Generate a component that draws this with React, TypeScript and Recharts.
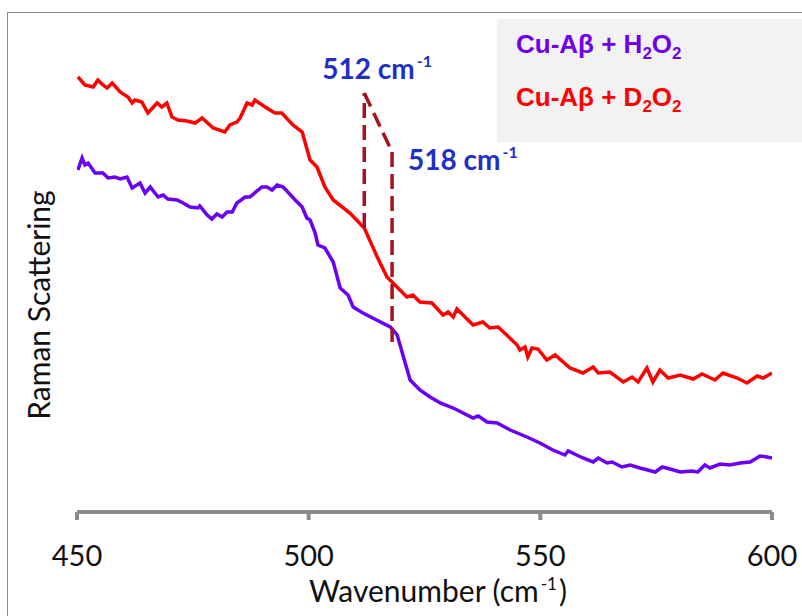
import { LineChart, Line, XAxis, YAxis, ReferenceLine } from "recharts";

// Raman spectra, wavenumber (cm-1) against relative scattering (arbitrary units)
const d2o2Wavenumber = [
  450.2, 451.7, 453.5, 454.5, 455.6, 456.5, 457.6, 459.3, 461.0, 461.9, 462.5, 464.0, 465.3, 467.3,
  468.3, 469.4, 470.5, 471.8, 473.7, 475.5, 477.0, 479.4, 481.9, 483.0, 484.5, 485.2, 486.7, 487.8,
  488.4, 490.6, 492.7, 494.2, 496.6, 498.6, 500.3, 501.8, 503.5, 505.3, 508.9, 512.0, 514.8, 516.9,
  519.7, 521.2, 522.5, 524.0, 526.6, 529.0, 530.1, 531.2, 532.0, 535.5, 537.6, 539.1, 540.9, 545.0,
  545.6, 546.7, 547.3, 548.2, 549.5, 551.4, 553.2, 556.4, 559.2, 561.4, 562.5, 565.0, 567.9, 569.8,
  571.1, 573.0, 574.3, 575.8, 577.6, 580.2, 583.0, 584.9, 587.7, 589.4, 592.5, 594.6, 596.8, 598.1,
  600.0,
];
const d2o2Intensity = [
  87.0, 85.4, 85.0, 86.4, 85.4, 84.8, 85.8, 84.0, 83.0, 81.8, 82.4, 82.0, 79.8, 81.8, 81.0, 81.8,
  79.0, 78.4, 78.2, 77.8, 78.8, 76.8, 76.0, 77.4, 78.0, 78.8, 81.8, 81.4, 82.4, 81.0, 79.8, 79.8,
  77.4, 76.0, 70.4, 69.0, 65.0, 62.4, 59.8, 56.8, 51.0, 47.0, 44.4, 43.0, 43.4, 42.0, 41.8, 39.4,
  40.0, 39.0, 40.6, 37.4, 38.0, 36.8, 37.0, 33.4, 32.4, 33.0, 31.0, 32.8, 32.6, 30.4, 31.4, 28.8,
  27.8, 29.0, 27.8, 28.0, 26.0, 27.0, 26.0, 28.8, 26.0, 28.4, 26.8, 27.4, 26.6, 27.6, 26.4, 27.8,
  26.8, 25.8, 27.2, 26.8, 27.8,
];

const h2o2Wavenumber = [
  450.2, 451.1, 451.7, 452.4, 453.9, 455.6, 456.7, 458.2, 459.3, 460.8, 461.9, 463.6, 464.7, 465.8,
  467.5, 468.6, 469.6, 471.6, 472.9, 474.4, 476.1, 476.5, 478.1, 479.1, 480.2, 481.3, 482.4, 483.5,
  484.5, 486.3, 487.3, 489.9, 491.0, 492.1, 493.2, 494.5, 497.1, 498.6, 499.6, 500.3, 501.4, 502.0,
  503.5, 505.3, 506.8, 508.5, 509.6, 511.7, 517.6, 518.2, 519.1, 521.9, 524.0, 526.2, 528.4, 531.2,
  535.5, 536.6, 538.5, 540.7, 543.5, 547.1, 549.9, 552.7, 555.3, 556.0, 559.2, 561.4, 562.5, 564.4,
  565.5, 567.6, 569.4, 571.5, 574.8, 576.3, 578.0, 580.2, 582.7, 584.0, 585.5, 586.6, 588.8, 590.9,
  593.1, 595.3, 597.4, 598.9, 600.0,
];
const h2o2Intensity = [
  68.4, 70.8, 69.4, 69.8, 67.8, 67.8, 66.8, 67.0, 66.6, 67.0, 64.8, 65.8, 63.8, 65.0, 63.0, 63.4,
  62.6, 62.4, 61.8, 61.0, 60.8, 61.2, 59.4, 58.6, 59.6, 59.0, 60.0, 60.0, 61.8, 63.0, 63.0, 65.0,
  65.0, 64.4, 65.4, 65.0, 62.4, 61.0, 58.8, 58.4, 55.8, 53.4, 52.8, 50.0, 44.8, 43.4, 41.0, 39.8,
  37.0, 36.4, 35.4, 26.4, 24.4, 23.0, 21.8, 20.8, 18.8, 19.2, 18.0, 17.8, 16.4, 15.0, 13.8, 12.4,
  11.4, 12.2, 10.8, 10.0, 10.8, 9.8, 10.0, 9.0, 9.4, 8.8, 8.0, 9.0, 8.6, 8.0, 8.2, 8.0, 9.4, 8.8,
  9.6, 9.4, 9.8, 10.0, 11.2, 11.0, 10.8,
];

const xTicks = [450, 500, 550, 600];

// marked bands and where their guide lines start and stop
const bandLabels = ["512", "518"];
const bandPositions = [512, 518];
const guideTop = [83.8, 72.0];
const guideBottom = [56.8, 34.0];

const toPoints = (xs: number[], ys: number[]) => xs.map((w, i) => ({ w, v: ys[i] }));

const d2o2Data = toPoints(d2o2Wavenumber, d2o2Intensity);
const h2o2Data = toPoints(h2o2Wavenumber, h2o2Intensity);

const RED = "#FF0000";
const PURPLE = "#6A00F4";
const GUIDE = "#A8121E";
const BLUE = "#1F2FC8";
const FONT = "Lato, 'Open Sans', sans-serif";

function BandLabel({ viewBox, text, dx, dy }: any) {
  if (!viewBox) return null;
  return (
    <text
      x={viewBox.x + dx}
      y={viewBox.y + dy}
      fill={BLUE}
      fontFamily={FONT}
      fontSize={28}
      fontWeight={700}
    >
      {text} cm
      <tspan dx={2} dy={-12} fontSize={16}>
        -1
      </tspan>
    </text>
  );
}

function AxisTitle({ viewBox }: any) {
  if (!viewBox) return null;
  return (
    <text x={309} y={viewBox.y + viewBox.height + 20} fill="#111" fontFamily={FONT} fontSize={30}>
      Wavenumber (cm
      <tspan dx={2} dy={-12} fontSize={17}>
        -1
      </tspan>
      <tspan dx={2} dy={12}>
        )
      </tspan>
    </text>
  );
}

export default function App() {
  return (
    <div
      style={{
        position: "absolute",
        left: 0,
        top: 0,
        width: 802,
        height: 616,
        overflow: "hidden",
        background: "#fff",
      }}
    >
      <div
        style={{
          position: "absolute",
          left: 7,
          top: 12,
          width: 900,
          height: 700,
          borderLeft: "1px solid #8c8c8c",
          borderTop: "1px solid #8c8c8c",
        }}
      />
      <div
        style={{
          position: "absolute",
          left: 497,
          top: 19,
          width: 320,
          height: 123,
          background: "#F2F2F2",
          fontFamily: "'Liberation Sans', Arial, sans-serif",
          fontWeight: 700,
          fontSize: 26,
          lineHeight: "30px",
        }}
      >
        <div style={{ position: "absolute", left: 19, top: 10, color: "#7000E6", whiteSpace: "nowrap" }}>
          Cu-Aβ + H<sub style={{ fontSize: 17, lineHeight: 0 }}>2</sub>O
          <sub style={{ fontSize: 17, lineHeight: 0 }}>2</sub>
        </div>
        <div style={{ position: "absolute", left: 19, top: 63, color: RED, whiteSpace: "nowrap" }}>
          Cu-Aβ + D<sub style={{ fontSize: 17, lineHeight: 0 }}>2</sub>O
          <sub style={{ fontSize: 17, lineHeight: 0 }}>2</sub>
        </div>
      </div>
      <div
        style={{
          position: "absolute",
          left: 38,
          top: 305,
          transform: "translate(-50%, -50%) rotate(-90deg)",
          fontFamily: FONT,
          fontSize: 30,
          color: "#111",
          whiteSpace: "nowrap",
        }}
      >
        Raman Scattering
      </div>
      <LineChart
        width={802}
        height={616}
        margin={{ top: 12, right: 30, left: 77, bottom: 34 }}
        style={{ position: "absolute", left: 0, top: 0 }}
      >
        <XAxis
          type="number"
          dataKey="w"
          domain={[450, 600]}
          ticks={xTicks}
          allowDataOverflow
          height={70}
          stroke="#8c8c8c"
          axisLine={{ stroke: "#8c8c8c", strokeWidth: 4 }}
          tickLine={{ stroke: "#8c8c8c", strokeWidth: 4 }}
          tickSize={8}
          tickMargin={25}
          tick={{ fill: "#111", fontSize: 29, fontFamily: FONT }}
          label={<AxisTitle />}
        />
        <YAxis hide type="number" domain={[0, 100]} allowDataOverflow />
        <Line
          data={d2o2Data}
          dataKey="v"
          stroke={RED}
          strokeWidth={3.5}
          dot={false}
          isAnimationActive={false}
        />
        <Line
          data={h2o2Data}
          dataKey="v"
          stroke={PURPLE}
          strokeWidth={3.5}
          dot={false}
          isAnimationActive={false}
        />
        <ReferenceLine
          segment={[
            { x: bandPositions[0], y: guideBottom[0] },
            { x: bandPositions[0], y: guideTop[0] },
          ]}
          stroke={GUIDE}
          strokeWidth={3.5}
          strokeDasharray="15 7"
          label={<BandLabel text={bandLabels[0]} dx={-42} dy={-14} />}
        />
        <ReferenceLine
          segment={[
            { x: bandPositions[0], y: guideTop[0] },
            { x: bandPositions[1], y: guideTop[1] },
          ]}
          stroke={GUIDE}
          strokeWidth={3.5}
          strokeDasharray="15 7"
        />
        <ReferenceLine
          segment={[
            { x: bandPositions[1], y: guideTop[1] },
            { x: bandPositions[1], y: guideBottom[1] },
          ]}
          stroke={GUIDE}
          strokeWidth={3.5}
          strokeDasharray="15 7"
          label={<BandLabel text={bandLabels[1]} dx={16} dy={18} />}
        />
      </LineChart>
    </div>
  );
}
